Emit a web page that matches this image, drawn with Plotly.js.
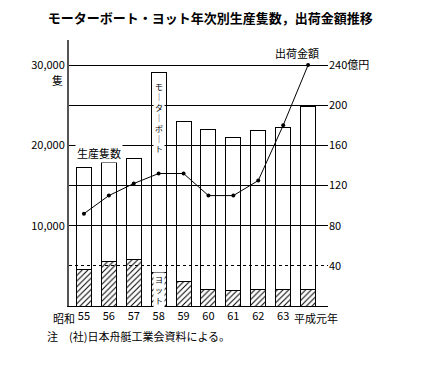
<!DOCTYPE html>
<html><head><meta charset="utf-8">
<script src="https://cdn.plot.ly/plotly-3.0.1.min.js"></script>
<style>html,body{margin:0;padding:0;background:#fff}</style>
</head><body><div id="chart" style="width:429px;height:370px"></div>
<script>
const categories = ["55","56","57","58","59","60","61","62","63","平成元年"];
const yachtUnits = [4500, 5600, 5800, 4200, 3100, 2000, 1900, 2100, 2100, 2000];
const motorboatUnits = [12700, 12250, 12550, 24900, 19900, 20000, 19100, 19800, 20100, 22900];
const shipmentValue = [92, 110, 122, 132, 132, 110, 110, 125, 180, 240];
const leftTickVals = [10000, 15000, 20000, 25000, 30000];
const leftTickText = ["10,000", "", "20,000", "", "30,000"];
const rightTickVals = [40, 80, 120, 160, 200, 240];
const rightTickText = ["40", "80", "120", "160", "200", "240億円"];

const xIdx = categories.map((c, i) => i);
const last = categories.length - 1;
// the last label (平成元年) is placed slightly right of its bar, as in the original
const tickText = categories.map((c, i) => i === last ? '' : c);
const F = '"Noto Sans CJK JP", "Noto Sans", sans-serif';

const traces = [
  {type: 'bar', x: xIdx, y: yachtUnits, width: 0.6, name: 'ヨット',
   marker: {color: 'rgba(0,0,0,0)', line: {color: '#000', width: 1},
     pattern: {shape: '/', fgcolor: '#000', bgcolor: 'rgba(0,0,0,0)', size: 4, solidity: 0.25}}},
  {type: 'bar', x: xIdx, y: motorboatUnits, width: 0.6, name: 'モーターボート',
   marker: {color: 'rgba(0,0,0,0)', line: {color: '#000', width: 1}}},
  {type: 'scatter', mode: 'lines+markers', x: xIdx, y: shipmentValue, yaxis: 'y2',
   line: {color: '#000', width: 1}, marker: {size: 4, color: '#000'}, name: '出荷金額'}
];

const layout = {
  width: 429, height: 370,
  margin: {l: 69, r: 101, t: 40, b: 64},
  paper_bgcolor: '#fff', plot_bgcolor: '#fff',
  showlegend: false, barmode: 'stack',
  font: {family: F, color: '#000', size: 11},
  title: {text: 'モーターボート・ヨット年次別生産隻数，出荷金額推移', x: 0.49, xanchor: 'center',
          y: 0.951, yanchor: 'middle', yref: 'container', font: {size: 13, family: F, weight: 'bold'}},
  xaxis: {range: [-0.6, 9.8], tickmode: 'array', tickvals: xIdx, ticktext: tickText,
          tickangle: 0, automargin: false,
          showgrid: false, zeroline: false, showline: true, linecolor: '#000', linewidth: 1,
          ticks: '', tickfont: {size: 11}},
  yaxis: {range: [0, 33125], tickmode: 'array', tickvals: leftTickVals, ticktext: leftTickText,
          showgrid: true, gridcolor: '#000', gridwidth: 1, zeroline: false, automargin: false,
          showline: true, linecolor: '#555', linewidth: 2, ticks: '', tickfont: {size: 11},
          minor: {tickvals: [5000], showgrid: true, gridcolor: '#000', griddash: 'dot', gridwidth: 1}},
  yaxis2: {range: [0, 265], overlaying: 'y', side: 'right', tickmode: 'array', automargin: false,
           tickvals: rightTickVals, ticktext: rightTickText, showgrid: false, zeroline: false,
           showline: false, ticks: '', tickfont: {size: 11}},
  annotations: [
    {text: categories[last], xref: 'x', x: last + 0.33, xanchor: 'center', yref: 'paper', y: -0.008, yanchor: 'top', showarrow: false, font: {size: 11}},
    {text: '隻', xref: 'paper', x: -0.015, xanchor: 'right', yref: 'y', y: 28100, showarrow: false, font: {size: 11}},
    {text: '昭和', xref: 'x', x: -0.27, xanchor: 'right', yref: 'paper', y: -0.008, yanchor: 'top', showarrow: false, font: {size: 11}},
    {text: '生産隻数', xref: 'x', x: 0.62, xanchor: 'center', yref: 'y', y: 19050, showarrow: false, font: {size: 11}, bgcolor: '#fff'},
    {text: '出荷金額', xref: 'paper', x: 0.88, xanchor: 'center', yref: 'y', y: 31500, showarrow: false, font: {size: 11}},
    {text: 'モ<br>｜<br>タ<br>｜<br>ボ<br>｜<br>ト', xref: 'x', x: 3, yref: 'y', y: 23500, showarrow: false, font: {size: 8}, bgcolor: '#fff'},
    {text: 'ヨ<br>ッ<br>ト', xref: 'x', x: 3, yref: 'y', y: 2000, showarrow: false, font: {size: 8}, bgcolor: '#fff'},
    {text: '注　(社)日本舟艇工業会資料による。', xref: 'paper', x: -0.093, xanchor: 'left', yref: 'paper', y: -0.113, yanchor: 'middle', showarrow: false, font: {size: 11}}
  ]
};

Plotly.newPlot('chart', traces, layout, {displayModeBar: false, staticPlot: true});
</script></body></html>
